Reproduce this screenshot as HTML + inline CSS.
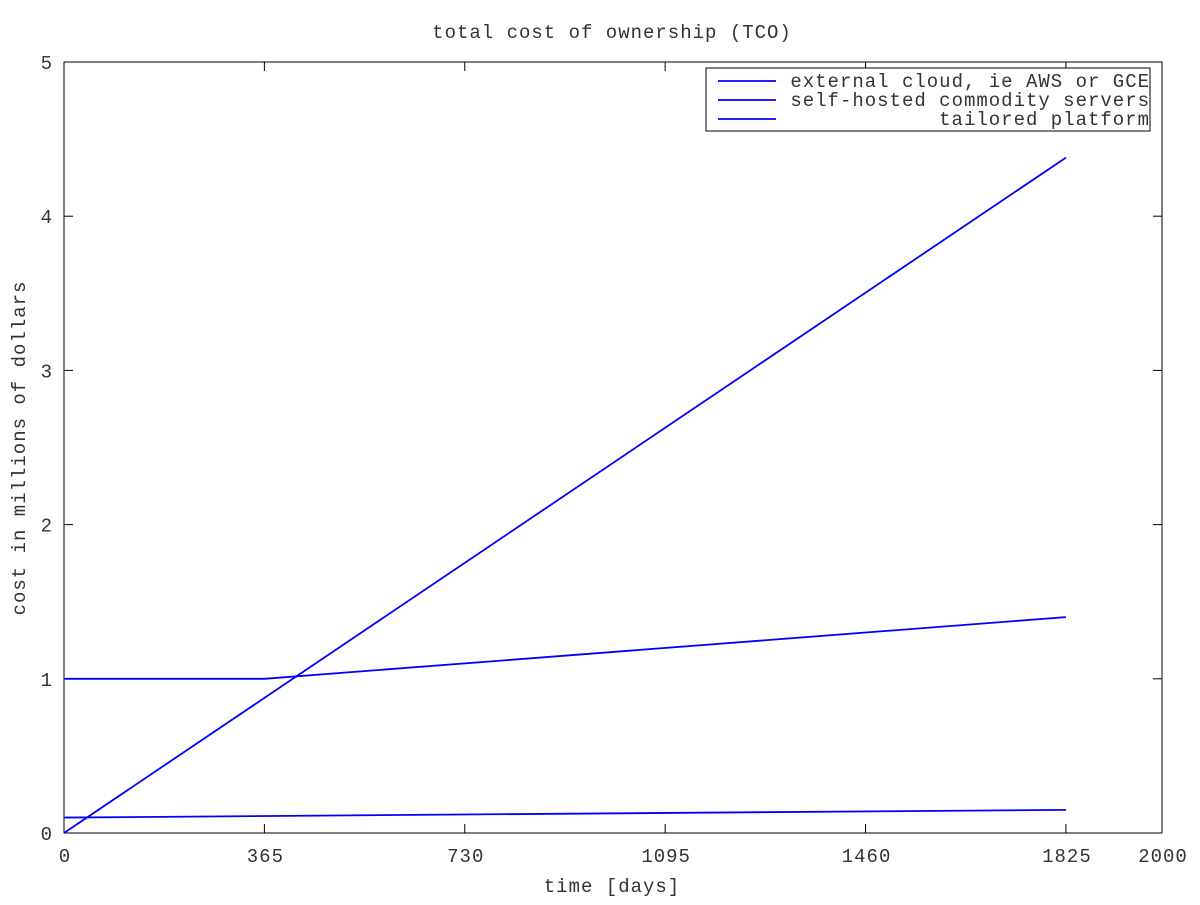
<!DOCTYPE html>
<html><head><meta charset="utf-8"><style>
html,body{margin:0;padding:0;background:#fff;}
svg text{font-family:"Liberation Mono","DejaVu Sans Mono",monospace;font-size:19px;fill:#333;letter-spacing:1px;}
</style></head><body>
<svg id="chart" width="1200" height="900" xmlns="http://www.w3.org/2000/svg">
<rect width="1200" height="900" fill="#fff"/>
<text x="612" y="38" text-anchor="middle">total cost of ownership (TCO)</text>
<text x="612" y="892" text-anchor="middle">time [days]</text>
<text transform="translate(25,448) rotate(-90)" text-anchor="middle">cost in millions of dollars</text>
<g id="axes"></g>
<g id="series"></g>
<g id="legend">
<rect x="706" y="68" width="444" height="63" fill="#fff" stroke="#000" stroke-width="1"/>
</g>
</svg>
<script>
const xTicks=[0,365,730,1095,1460,1825,2000];
const yTicks=[0,1,2,3,4,5];
const seriesNames=["external cloud, ie AWS or GCE","self-hosted commodity servers","tailored platform"];
const cloudDays=[0,1825];
const cloudCost=[0,4.38];
const selfDays=[0,365,1825];
const selfCost=[1,1,1.4];
const tailDays=[0,1825];
const tailCost=[0.1,0.15];

const L=64,R=1162,T=62,B=833;
const sx=d=>L+d/2000*(R-L);
const sy=v=>B-v/5*(B-T);
const NS="http://www.w3.org/2000/svg";
function mk(tag,attrs,parent){const e=document.createElementNS(NS,tag);for(const k in attrs)e.setAttribute(k,attrs[k]);parent.appendChild(e);return e;}
const axes=document.getElementById('axes');
const frame=mk('rect',{x:L,y:T,width:R-L,height:B-T,fill:'none',stroke:'#000','stroke-width':1},axes);


xTicks.forEach(t=>{const x=sx(t);
 mk('line',{x1:x,y1:B,x2:x,y2:B-9,stroke:'#000'},axes);
 mk('line',{x1:x,y1:T,x2:x,y2:T+9,stroke:'#000'},axes);
 const tx=mk('text',{x:x+1,y:862,'text-anchor':'middle'},axes);tx.textContent=t;
 
 
});
yTicks.forEach(t=>{const y=sy(t);
 mk('line',{x1:L,y1:y,x2:L+9,y2:y,stroke:'#000'},axes);
 mk('line',{x1:R,y1:y,x2:R-9,y2:y,stroke:'#000'},axes);
 const tx=mk('text',{x:53,y:y+7,'text-anchor':'end'},axes);tx.textContent=t;
 
 
});
const sg=document.getElementById('series');
const all=[[cloudDays,cloudCost,'line-external-cloud'],[selfDays,selfCost,'line-self-hosted'],[tailDays,tailCost,'line-tailored-platform']];
all.forEach(([d,v,n])=>{
 const p=mk('polyline',{points:d.map((x,i)=>sx(x)+','+sy(v[i])).join(' '),fill:'none',stroke:'#0000ff','stroke-width':1.8},sg);
 
 
});
const lg=document.getElementById('legend');
seriesNames.forEach((s,i)=>{const y=81+i*19;
 mk('line',{x1:718,y1:y,x2:776,y2:y,stroke:'#0000ff','stroke-width':1.8},lg);
 const tx=mk('text',{x:1150,y:y+6,'text-anchor':'end'},lg);tx.textContent=s;
 
 
});
</script>
</body></html>
